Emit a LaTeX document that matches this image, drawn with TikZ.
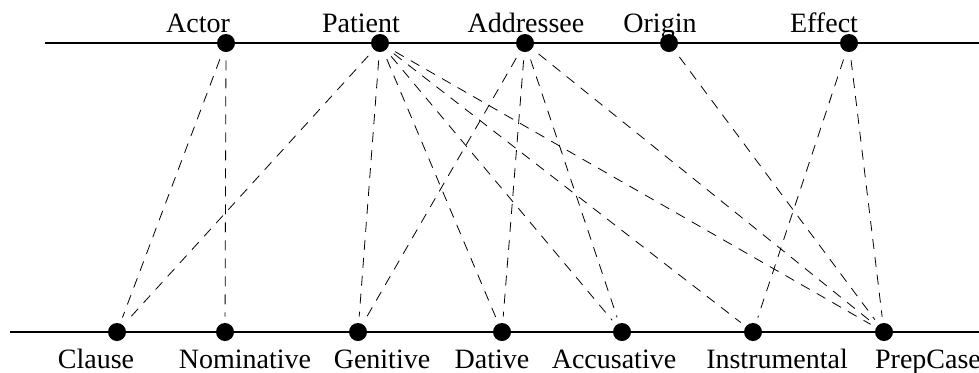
\documentclass[tikz,border=0pt]{standalone}
\usepackage{fontspec}
\setmainfont{Liberation Serif}
\usetikzlibrary{arrows.meta}

\begin{document}
\begin{tikzpicture}[x=0.5pt, y=-0.5pt,
    every node/.style={font=\fontsize{14}{17}\selectfont},
    dot/.style={circle, fill=black, inner sep=0pt, minimum size=9pt},
    link/.style={dashed, dash pattern=on 5pt off 4pt, line width=0.4pt, shorten <=4pt, shorten >=3pt}]
    \useasboundingbox (0,0) rectangle (979,372);
    % the two axes
    \draw [line width=1pt] (45,43) -- (979,43);
    \draw [line width=1pt] (10,332) -- (979,332);
    % roles
    \node (actor) at (226,43) [dot] {};
    \node (patient) at (380,43) [dot] {};
    \node (addressee) at (525,43) [dot] {};
    \node (origin) at (669,43) [dot] {};
    \node (effect) at (849,43) [dot] {};
    \node (lactor) at (198,32) [anchor = base] {Actor};
    \node (lpatient) at (361,32) [anchor = base] {Patient};
    \node (laddressee) at (526,32) [anchor = base] {Addressee};
    \node (lorigin) at (660,32) [anchor = base] {Origin};
    \node (leffect) at (824,32) [anchor = base] {Effect};
    % cases
    \node (clause) at (117,332) [dot] {};
    \node (nom) at (225,332) [dot] {};
    \node (gen) at (358,332) [dot] {};
    \node (dat) at (502,332) [dot] {};
    \node (acc) at (622,332) [dot] {};
    \node (instr) at (753,332) [dot] {};
    \node (prep) at (884,332) [dot] {};
    \node (lclause) at (96,368) [anchor = base] {Clause};
    \node (lnom) at (245,368) [anchor = base] {Nominative};
    \node (lgen) at (382,368) [anchor = base] {Genitive};
    \node (ldat) at (492,368) [anchor = base] {Dative};
    \node (lacc) at (614,368) [anchor = base] {Accusative};
    \node (linstr) at (777,368) [anchor = base] {Instrumental};
    \node (lprep) at (928,368) [anchor = base] {PrepCase};
    % links
    \foreach \a/\b in {actor/clause, actor/nom,
        patient/clause, patient/gen, patient/dat, patient/acc, patient/instr, patient/prep,
        addressee/gen, addressee/dat, addressee/acc, addressee/prep,
        origin/prep, effect/instr, effect/prep}
        \draw [link] (\a) -- (\b);
\end{tikzpicture}
\end{document}
